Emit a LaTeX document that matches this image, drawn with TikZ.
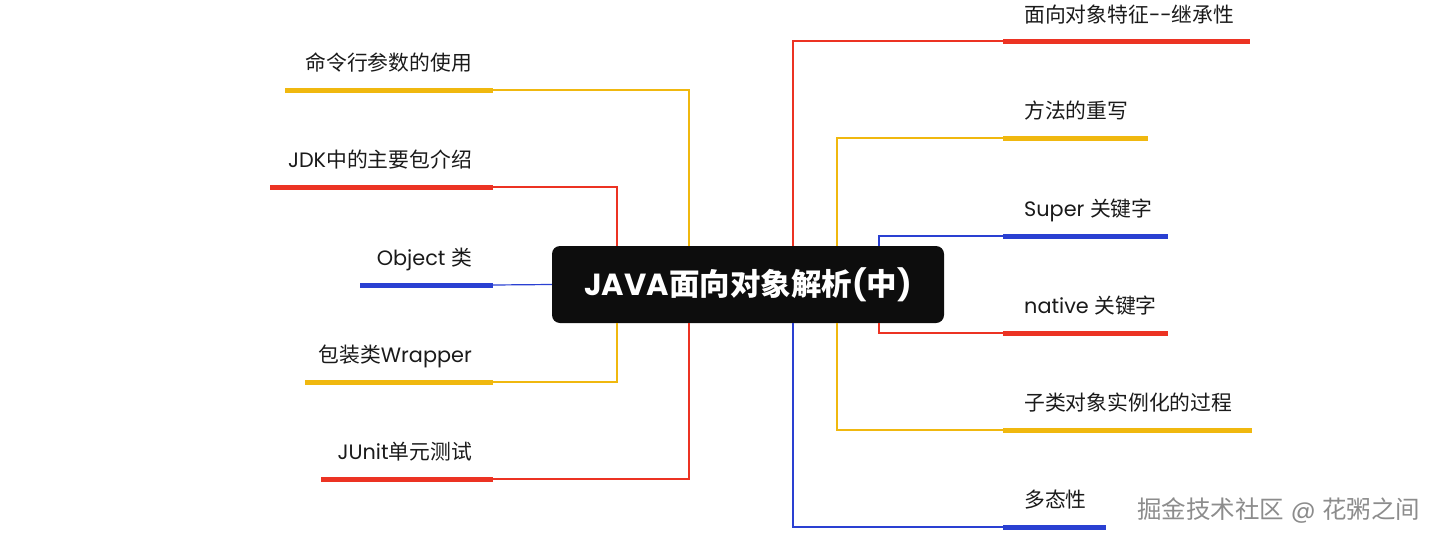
\documentclass[tikz,border=0pt]{standalone}
\usepackage{fontspec}
\setmainfont{Poppins}
\newfontfamily\cjk{Noto Sans CJK SC}
\definecolor{mred}{HTML}{EC3323}
\definecolor{myel}{HTML}{F0B80F}
\definecolor{mblu}{HTML}{2A40D2}
\definecolor{mbox}{HTML}{0D0D0D}
\definecolor{mtxt}{HTML}{1A1A1A}
\begin{document}
\begin{tikzpicture}[x=1pt,y=-1pt,
  center/.style={fill=mbox,rounded corners=8pt,minimum width=392pt,minimum height=77pt,inner sep=0pt,text=white,font=\fontsize{30.5}{32}\selectfont\bfseries},
  lab/.style={inner sep=0pt,text=mtxt,font=\fontsize{20.8}{23}\selectfont},
  under/.style={line width=5pt},
  conn/.style={line width=1.2pt},
]
\useasboundingbox (0,0) rectangle (1439,541);
\node[center] (c) at (748,284.5) {JAVA{\cjk\bfseries 面向对象解析}({\cjk\bfseries 中})};

% anchor columns
\coordinate (kL1) at (689,0);
\coordinate (kL2) at (617,0);
\coordinate (kR1) at (793,0);
\coordinate (kR2) at (837,0);
\coordinate (kR3) at (879,0);

% ---- left branches ----
\coordinate (l1a) at (285,90);  \coordinate (l1b) at (493,90);
\coordinate (l2a) at (270,187); \coordinate (l2b) at (493,187);
\coordinate (l3a) at (360,285); \coordinate (l3b) at (493,285);
\coordinate (l4a) at (305,382); \coordinate (l4b) at (493,382);
\coordinate (l5a) at (321,479); \coordinate (l5b) at (493,479);

\draw[under,myel] (l1a) -- (l1b);
\draw[under,mred] (l2a) -- (l2b);
\draw[under,mblu] (l3a) -- (l3b);
\draw[under,myel] (l4a) -- (l4b);
\draw[under,mred] (l5a) -- (l5b);

\node[lab,anchor=base east] (t1) at (472,70) {\cjk 命令行参数的使用};
\node[lab,anchor=base east] (t2) at (472,167) {JDK{\cjk 中的主要包介绍}};
\node[lab,anchor=base east] (t3) at (472,265) {Object {\cjk 类}};
\node[lab,anchor=base east] (t4) at (472,362) {{\cjk 包装类}Wrapper};
\node[lab,anchor=base east] (t5) at (472,459) {JUnit{\cjk 单元测试}};

\draw[conn,myel] (l1b) -| (kL1 |- c.north);
\draw[conn,mred] (l2b) -| (kL2 |- c.north);
\draw[conn,mblu] (l3b) -- (c.west);
\draw[conn,myel] (l4b) -| (kL2 |- c.south);
\draw[conn,mred] (l5b) -| (kL1 |- c.south);

% ---- right branches ----
\coordinate (r1a) at (1003,41);  \coordinate (r1b) at (1250,41);
\coordinate (r2a) at (1003,138); \coordinate (r2b) at (1148,138);
\coordinate (r3a) at (1003,236); \coordinate (r3b) at (1168,236);
\coordinate (r4a) at (1003,333); \coordinate (r4b) at (1168,333);
\coordinate (r5a) at (1003,430); \coordinate (r5b) at (1252,430);
\coordinate (r6a) at (1003,527); \coordinate (r6b) at (1106,527);

\draw[under,mred] (r1a) -- (r1b);
\draw[under,myel] (r2a) -- (r2b);
\draw[under,mblu] (r3a) -- (r3b);
\draw[under,mred] (r4a) -- (r4b);
\draw[under,myel] (r5a) -- (r5b);
\draw[under,mblu] (r6a) -- (r6b);

\node[lab,anchor=base west] (s1) at (1024,22) {{\cjk 面向对象特征}-{}-{\cjk 继承性}};
\node[lab,anchor=base west] (s2) at (1024,118) {\cjk 方法的重写};
\node[lab,anchor=base west] (s3) at (1024,216) {Super {\cjk 关键字}};
\node[lab,anchor=base west] (s4) at (1024,313) {native {\cjk 关键字}};
\node[lab,anchor=base west] (s5) at (1024,410) {\cjk 子类对象实例化的过程};
\node[lab,anchor=base west] (s6) at (1024,507) {\cjk 多态性};

\draw[conn,mred] (r1a) -| (kR1 |- c.north);
\draw[conn,myel] (r2a) -| (kR2 |- c.north);
\draw[conn,mblu] (r3a) -| (kR3 |- c.north);
\draw[conn,mred] (r4a) -| (kR3 |- c.south);
\draw[conn,myel] (r5a) -| (kR2 |- c.south);
\draw[conn,mblu] (r6a) -| (kR1 |- c.south);

% watermark
\node[inner sep=0pt,anchor=base west,text=black!45,font=\fontsize{24.5}{26}\selectfont] (wm) at (1137,518) {{\cjk 掘金技术社区} @ {\cjk 花粥之间}};
\end{tikzpicture}
\end{document}
